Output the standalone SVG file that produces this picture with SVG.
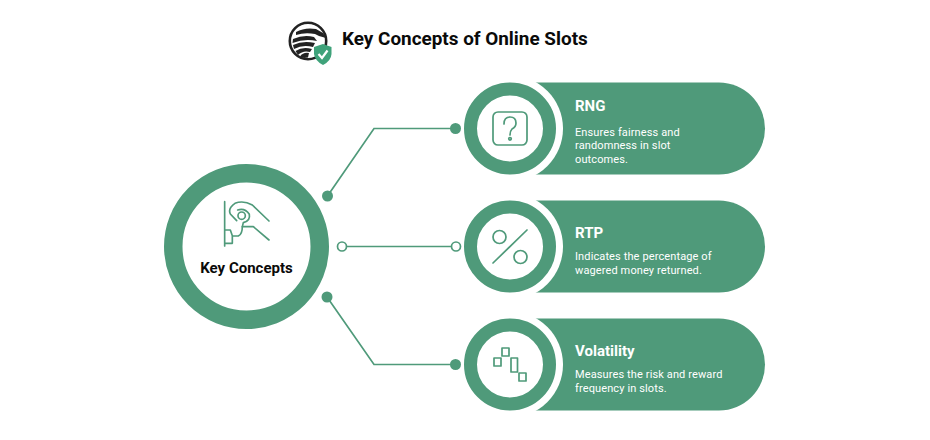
<svg xmlns="http://www.w3.org/2000/svg" width="930" height="440" viewBox="0 0 930 440">
<style>
text{font-family:Roboto,"Liberation Sans",sans-serif}
.title{font-size:18.900px;font-weight:700;fill:#0a0a0a}
.center{font-size:15px;font-weight:700;fill:#0a0a0a;text-anchor:middle}
.h{font-size:15px;font-weight:700;fill:#fff}
.d{font-size:11px;fill:#fff;letter-spacing:.12px}
.pill{fill:#4f9a7a}
.gap{fill:#fff}
.ring{fill:#fff;stroke:#4f9a7a;stroke-width:13}
.ic{fill:none;stroke:#4f9a7a;stroke-width:1.7;stroke-linecap:round;stroke-linejoin:round}
.ln{fill:none;stroke:#4f9a7a;stroke-width:1.7}
.dot{fill:#4f9a7a}
.open{fill:#fff;stroke:#4f9a7a;stroke-width:1.7}
.fe{fill:#222}
</style>
<rect width="930" height="440" fill="#fff"/>
<g id="logo">
<circle cx="308" cy="41" r="18.200" fill="#fff" stroke="#222" stroke-width="2.600"/>
<path class="fe" d="M296 32Q305 27 316 29L323 33L326 38L319 36L315 34Q305 32 296 35Z"/>
<path class="fe" d="M293 39Q304 34 314 37L317 41Q305 38 292.500 43Z"/>
<path class="fe" d="M293 45Q303 40 315 43L313 47Q303 44 294 49Z"/>
<path class="fe" d="M295.500 51Q303 46 312 49L310 52Q303 50 298 55Z"/>
<path class="fe" d="M300 56.500Q303 52 309 53L308 57.500L304 58Z"/>
<path d="M323 44L331.500 47V54Q331 61 323 65Q315 61 314 54V47Z" fill="#3fa27a"/>
<path d="M318.500 54L322 58L327.500 50.500" fill="none" stroke="#fff" stroke-width="2.200"/>
</g>
<text id="title" class="title" x="342" y="45">Key Concepts of Online Slots</text>
<g id="key-concepts">
<circle cx="246.500" cy="246.500" r="73.250" fill="#fff" stroke="#4f9a7a" stroke-width="18.500"/>
<g class="ic" transform="translate(155 160) scale(.3333)" style="stroke-width:5">
<path d="M209 125V258M209 210H226L232 227V250H209M232 228H250Q262 222 262 200H295L342 240"/>
<path d="M342 183L292 135Q265 120 240 130Q218 145 226 162L245 182"/>
<circle cx="260" cy="167" r="11"/>
<path d="M248 150Q270 143 283 163Q287 182 265 188L262 200"/>
</g>
<text class="center" x="246.500" y="273">Key Concepts</text>
</g>
<g id="rng">
<path class="pill" d="M530 82.500H719A46 46 0 0 1 719 174.500H530Z"/>
<circle class="gap" cx="510" cy="128.500" r="53"/>
<circle class="ring" cx="510" cy="128.500" r="39.500"/>
<rect class="ic" x="493" y="112" width="34" height="33" rx="5"/>
<path class="ic" d="M504 124Q504 117 510 117Q516 117 516 123Q516 127 512 129Q510 131 510 135"/>
<circle class="ic" cx="510" cy="138.800" r="1.300"/>
<text class="h" x="575" y="111">RNG</text>
<text class="d" x="575" y="136">Ensures fairness and</text>
<text class="d" x="575" y="149.300">randomness in slot</text>
<text class="d" x="575" y="162.700">outcomes.</text>
</g>
<g id="rtp">
<path class="pill" d="M530 200.500H719A46 46 0 0 1 719 292.500H530Z"/>
<circle class="gap" cx="510" cy="246.500" r="53"/>
<circle class="ring" cx="510" cy="246.500" r="39.500"/>
<path class="ic" d="M527 230L493 263"/>
<circle class="ic" cx="499.500" cy="237" r="6.500"/>
<circle class="ic" cx="520.500" cy="257" r="6.500"/>
<text class="h" x="575" y="238">RTP</text>
<text class="d" x="575" y="260">Indicates the percentage of</text>
<text class="d" x="575" y="274">wagered money returned.</text>
</g>
<g id="volatility">
<path class="pill" d="M530 318.500H719A46 46 0 0 1 719 410.500H530Z"/>
<circle class="gap" cx="510" cy="364.500" r="53"/>
<circle class="ring" cx="510" cy="364.500" r="39.500"/>
<rect class="ic" x="494" y="358" width="7" height="8"/>
<rect class="ic" x="502" y="348" width="7" height="8"/>
<rect class="ic" x="511" y="358" width="6.500" height="14"/>
<rect class="ic" x="519" y="373" width="7" height="8"/>
<text class="h" x="575" y="356">Volatility</text>
<text class="d" x="575" y="378">Measures the risk and reward</text>
<text class="d" x="575" y="392">frequency in slots.</text>
</g>
<g id="connectors">
<path class="ln" d="M327.500 196L374 128.500H455"/>
<path class="ln" d="M342 246.500H456"/>
<path class="ln" d="M327 297L374 364.500H455"/>
<circle class="dot" cx="327.500" cy="196" r="5.500"/>
<circle class="dot" cx="455.500" cy="128.500" r="5.500"/>
<circle class="open" cx="342" cy="246.500" r="4.500"/>
<circle class="open" cx="456" cy="246.500" r="4.500"/>
<circle class="dot" cx="327" cy="297" r="5.500"/>
<circle class="dot" cx="455.500" cy="364.500" r="5.500"/>
</g>
</svg>
